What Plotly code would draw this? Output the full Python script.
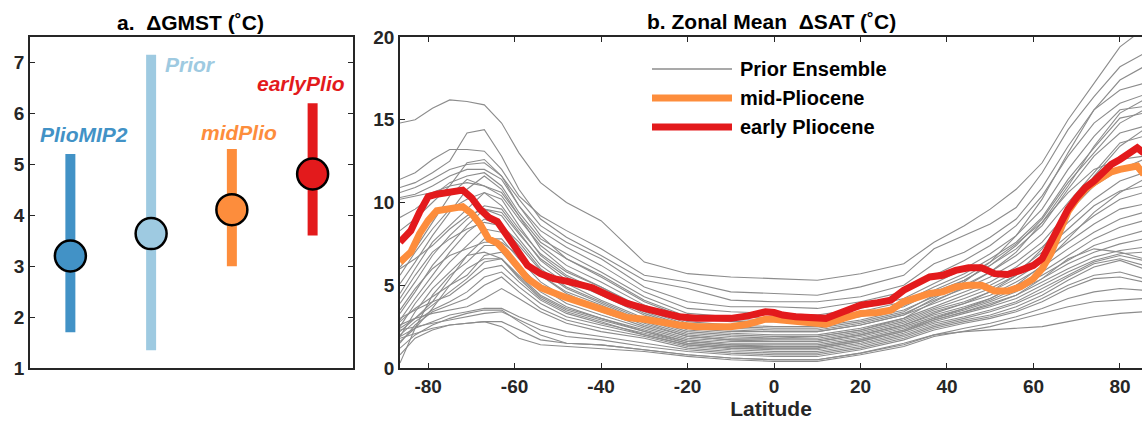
import plotly.graph_objects as go

# ---------------- Panel a: global mean surface temperature change ----------------
gmst_names = ["PlioMIP2", "Prior", "midPlio", "earlyPlio"]
gmst_center = [3.2, 3.64, 4.11, 4.81]
gmst_low = [1.7, 1.35, 3.0, 3.6]
gmst_high = [5.2, 7.15, 5.3, 6.2]
gmst_colors = ["#4292c6", "#9ecae1", "#fd8d3c", "#e31a1c"]

# ---------------- Panel b: zonal mean SAT change ----------------
lat_grid = [-86.5, -83, -79, -75, -71, -67, -63, -59, -54, -48, -40, -30, -20, -10,
            0, 10, 20, 30, 37, 44, 50, 56, 62, 68, 74, 80, 85.5]

ens01 = [14.8, 15.0, 15.7, 16.2, 16.1, 15.9, 14.8, 13.0, 11.2, 10.0, 8.9, 6.4, 5.7, 5.5, 5.4, 5.3, 5.7, 6.3, 7.6, 8.6, 9.6, 10.8, 12.4, 15.0, 17.2, 19.4, 20.5]
ens02 = [11.4, 11.8, 12.6, 13.2, 13.2, 13.1, 12.0, 10.4, 9.2, 8.3, 7.2, 5.6, 5.2, 4.6, 4.5, 4.4, 4.9, 5.6, 7.2, 8.0, 8.7, 9.7, 11.8, 14.4, 16.4, 18.2, 19.0]
ens03 = [10.9, 11.2, 11.8, 12.5, 14.2, 14.4, 12.8, 10.8, 9.0, 7.9, 6.8, 5.3, 4.8, 4.1, 4.0, 4.0, 4.3, 5.0, 6.3, 7.0, 7.9, 9.0, 10.9, 13.4, 15.6, 16.8, 17.2]
ens04 = [10.6, 10.9, 11.4, 12.0, 12.3, 12.4, 11.6, 10.2, 8.6, 7.6, 6.6, 4.9, 4.0, 3.7, 3.7, 3.6, 4.0, 4.6, 5.6, 6.5, 7.4, 8.6, 10.4, 12.8, 14.8, 16.0, 16.5]
ens05 = [10.3, 10.5, 11.0, 11.6, 12.0, 12.0, 11.4, 9.8, 8.3, 7.3, 6.2, 4.6, 3.6, 3.4, 3.3, 3.2, 3.6, 4.2, 5.1, 6.0, 6.9, 8.0, 9.6, 12.0, 14.0, 15.6, 15.8]
ens06 = [9.1, 9.6, 10.4, 11.2, 11.6, 11.8, 11.0, 9.4, 7.8, 6.9, 5.8, 4.3, 3.3, 3.1, 3.0, 3.0, 3.4, 4.0, 4.9, 5.7, 6.6, 7.6, 9.1, 11.4, 13.3, 15.1, 15.4]
ens07 = [8.3, 9.0, 10.0, 11.0, 12.4, 12.6, 11.6, 9.8, 8.0, 6.6, 5.5, 4.0, 3.0, 2.8, 2.8, 2.7, 3.1, 3.7, 4.6, 5.3, 6.2, 7.2, 8.6, 10.8, 12.8, 14.2, 14.6]
ens08 = [6.1, 7.2, 8.8, 10.4, 11.4, 11.0, 10.4, 9.0, 7.4, 6.2, 5.2, 3.8, 2.8, 2.6, 2.5, 2.5, 2.9, 3.5, 4.3, 5.0, 5.8, 6.8, 8.1, 10.0, 11.8, 13.6, 14.0]
ens09 = [5.1, 6.4, 8.0, 9.4, 10.8, 11.6, 10.8, 9.2, 7.2, 5.9, 4.9, 3.5, 2.6, 2.4, 2.3, 2.3, 2.7, 3.3, 4.1, 4.8, 5.5, 6.4, 7.6, 9.4, 11.0, 12.0, 12.6]
ens10 = [4.5, 6.0, 7.6, 8.6, 9.6, 10.6, 10.2, 8.6, 6.8, 5.6, 4.6, 3.3, 2.4, 2.2, 2.2, 2.2, 2.6, 3.2, 3.9, 4.6, 5.2, 6.1, 7.3, 8.8, 10.2, 11.3, 11.8]
ens11 = [3.9, 5.2, 6.8, 8.0, 9.0, 9.8, 9.6, 8.2, 6.5, 5.3, 4.4, 3.2, 2.3, 2.1, 2.0, 2.0, 2.4, 3.0, 3.7, 4.4, 5.0, 5.8, 7.0, 8.4, 9.8, 10.7, 11.0]
ens12 = [3.3, 4.6, 6.2, 7.4, 8.6, 9.6, 9.2, 7.8, 6.2, 5.1, 4.1, 3.0, 2.2, 2.0, 1.9, 1.9, 2.3, 2.9, 3.6, 4.2, 4.8, 5.6, 6.7, 8.0, 9.2, 10.2, 10.6]
ens13 = [2.9, 4.2, 5.6, 7.0, 8.2, 9.0, 8.6, 7.4, 5.9, 4.8, 3.9, 2.8, 2.0, 1.8, 1.8, 1.8, 2.2, 2.8, 3.5, 4.0, 4.6, 5.4, 6.4, 7.6, 8.7, 9.6, 9.9]
ens14 = [2.5, 3.9, 5.2, 6.4, 7.4, 8.4, 8.2, 7.0, 5.6, 4.5, 3.6, 2.6, 1.9, 1.7, 1.7, 1.7, 2.1, 2.7, 3.4, 3.9, 4.4, 5.2, 6.1, 7.2, 8.2, 9.0, 9.4]
ens15 = [1.9, 3.4, 4.8, 5.8, 6.8, 7.8, 7.8, 6.6, 5.2, 4.2, 3.4, 2.5, 1.8, 1.6, 1.6, 1.6, 2.0, 2.6, 3.2, 3.7, 4.2, 5.0, 5.8, 6.8, 7.8, 8.5, 8.9]
ens16 = [0.3, 2.4, 4.4, 5.6, 6.4, 7.4, 7.4, 6.2, 4.9, 3.9, 3.2, 2.4, 1.7, 1.5, 1.5, 1.5, 1.9, 2.5, 3.1, 3.6, 4.1, 4.8, 5.6, 6.5, 7.4, 7.9, 8.3]
ens17 = [2.8, 3.6, 4.3, 5.0, 5.6, 6.8, 7.0, 5.8, 4.6, 3.7, 3.0, 2.3, 1.6, 1.4, 1.4, 1.4, 1.8, 2.4, 3.0, 3.5, 4.0, 4.6, 5.4, 6.3, 7.0, 7.5, 7.8]
ens18 = [2.2, 3.0, 3.8, 4.6, 5.4, 6.4, 6.6, 5.5, 4.3, 3.5, 2.9, 2.2, 1.5, 1.3, 1.3, 1.3, 1.7, 2.3, 2.9, 3.4, 3.8, 4.4, 5.2, 6.0, 6.7, 7.1, 7.3]
ens19 = [3.0, 3.5, 4.0, 4.4, 5.2, 6.0, 6.2, 5.2, 4.1, 3.3, 2.7, 2.1, 1.5, 1.3, 1.2, 1.2, 1.6, 2.2, 2.8, 3.3, 3.7, 4.2, 5.0, 5.8, 6.5, 6.9, 7.0]
ens20 = [2.0, 2.8, 3.5, 4.0, 4.6, 5.5, 5.8, 4.9, 3.9, 3.1, 2.6, 2.0, 1.4, 1.2, 1.1, 1.1, 1.5, 2.1, 2.7, 3.1, 3.5, 4.0, 4.8, 5.6, 6.4, 6.8, 6.5]
ens21 = [1.5, 2.6, 3.4, 3.8, 4.2, 5.0, 5.5, 4.6, 3.6, 2.9, 2.4, 1.9, 1.3, 1.1, 1.0, 1.0, 1.4, 2.0, 2.6, 3.0, 3.4, 3.9, 4.6, 5.5, 6.3, 6.6, 6.2]
ens22 = [2.6, 3.0, 3.3, 3.5, 3.7, 4.2, 4.8, 4.2, 3.4, 2.7, 2.2, 1.8, 1.2, 1.0, 0.9, 0.9, 1.3, 1.9, 2.5, 2.9, 3.2, 3.7, 4.4, 5.3, 6.1, 6.5, 6.0]
ens23 = [1.9, 2.4, 2.8, 3.2, 3.4, 3.6, 3.6, 3.1, 2.6, 2.2, 1.9, 1.5, 1.1, 0.9, 0.8, 0.8, 1.2, 1.8, 2.4, 2.8, 3.1, 3.5, 4.2, 5.0, 5.6, 5.8, 5.4]
ens24 = [2.3, 2.5, 2.7, 2.9, 3.1, 3.3, 3.4, 2.9, 2.3, 1.9, 1.7, 1.3, 1.0, 0.8, 0.7, 0.7, 1.1, 1.7, 2.3, 2.7, 3.0, 3.4, 4.0, 4.8, 5.4, 5.5, 5.2]
ens25 = [1.8, 2.1, 2.4, 2.6, 2.7, 2.8, 2.8, 2.3, 1.7, 1.5, 1.4, 1.1, 0.8, 0.6, 0.5, 0.5, 0.9, 1.4, 2.0, 2.4, 2.7, 3.1, 3.6, 4.2, 4.6, 4.8, 4.7]
ens26 = [0.8, 1.8, 2.3, 2.6, 2.7, 2.8, 2.5, 1.8, 1.4, 1.3, 1.2, 1.0, 0.7, 0.5, 0.4, 0.4, 0.8, 1.3, 1.9, 2.2, 2.5, 2.9, 3.3, 3.7, 4.0, 4.1, 4.2]
ens27 = [3.5, 4.8, 6.0, 6.8, 7.2, 7.6, 7.6, 6.8, 5.6, 4.6, 3.8, 2.7, 1.9, 1.7, 1.6, 1.6, 2.0, 2.6, 3.3, 3.9, 4.6, 5.6, 7.2, 9.4, 11.6, 13.4, 14.4]
ens28 = [4.2, 5.6, 7.0, 7.8, 8.4, 8.8, 8.6, 7.6, 6.0, 4.9, 4.0, 2.9, 2.1, 1.9, 1.8, 1.9, 2.3, 3.0, 4.0, 4.9, 5.8, 7.0, 8.8, 11.0, 13.4, 15.4, 16.2]
ens29 = [2.4, 3.0, 4.0, 5.4, 6.8, 7.0, 6.6, 5.6, 4.4, 3.6, 3.0, 2.2, 1.6, 1.4, 1.3, 1.3, 1.7, 2.3, 3.0, 3.6, 4.2, 5.0, 6.2, 7.8, 9.4, 10.6, 11.4]
ens30 = [1.6, 2.4, 3.6, 5.0, 6.0, 6.6, 6.6, 5.4, 4.2, 3.4, 2.8, 2.0, 1.4, 1.2, 1.2, 1.2, 1.6, 2.2, 2.9, 3.4, 3.9, 4.4, 5.4, 6.6, 7.2, 7.0, 6.6]
ens31 = [1.2, 2.0, 2.6, 3.0, 3.3, 3.5, 3.5, 2.8, 2.0, 1.5, 1.4, 1.1, 0.8, 0.6, 0.5, 0.5, 0.9, 1.5, 2.0, 2.2, 2.3, 2.4, 2.5, 2.8, 3.1, 3.3, 3.4]
ens32 = [5.6, 7.0, 8.4, 9.6, 10.2, 10.6, 9.8, 8.4, 6.9, 5.8, 4.9, 3.6, 2.7, 2.5, 2.4, 2.4, 2.8, 3.4, 4.4, 5.3, 6.2, 7.4, 9.0, 11.2, 13.0, 14.8, 15.6]
ens33 = [10.2, 10.4, 10.6, 11.0, 11.2, 11.0, 10.6, 9.2, 7.6, 6.6, 5.6, 4.1, 3.1, 2.9, 2.9, 2.9, 3.2, 3.8, 4.7, 5.5, 6.4, 7.5, 8.8, 10.6, 12.0, 12.6, 12.8]
ens34 = [6.0, 6.6, 7.4, 8.4, 9.2, 9.6, 9.4, 8.1, 6.6, 5.5, 4.5, 3.4, 2.5, 2.3, 2.2, 2.2, 2.6, 3.2, 4.2, 5.2, 6.4, 8.0, 10.2, 13.0, 15.6, 17.4, 18.2]

prior_ensemble = [ens01, ens02, ens03, ens04, ens05, ens06, ens07, ens08, ens09, ens10,
                  ens11, ens12, ens13, ens14, ens15, ens16, ens17, ens18, ens19, ens20,
                  ens21, ens22, ens23, ens24, ens25, ens26, ens27, ens28, ens29, ens30,
                  ens31, ens32, ens33, ens34]

lat_fine = [-86.5, -84, -82, -80, -78, -76, -74, -72, -70, -68, -66, -64, -62, -60, -57, -54,
            -51, -48, -45, -42, -38, -34, -30, -26, -22, -18, -14, -10, -6, -2, 0, 2, 5, 8,
            12, 16, 20, 24, 27, 30, 33, 36, 39, 42, 45, 48, 51, 54, 57, 60, 62, 64, 66, 68,
            70, 72, 74, 76, 78, 80, 82, 84, 85.5]
mid_pliocene = [6.4, 7.0, 8.1, 8.9, 9.5, 9.55, 9.7, 9.75, 9.35, 8.7, 7.8, 7.55, 7.0, 6.3, 5.4, 4.85,
                4.5, 4.25, 4.0, 3.75, 3.4, 3.05, 2.95, 2.75, 2.6, 2.5, 2.45, 2.5, 2.65, 2.95, 2.95, 2.9, 2.8, 2.75,
                2.65, 3.0, 3.3, 3.35, 3.5, 4.0, 4.3, 4.5, 4.6, 4.9, 5.0, 5.0, 4.65, 4.65, 4.9, 5.4, 6.0, 6.9, 8.2, 9.45,
                10.2, 10.8, 11.2, 11.5, 11.85, 12.0, 12.1, 12.2, 11.7]
early_pliocene = [7.6, 8.3, 9.4, 10.35, 10.5, 10.55, 10.7, 10.75, 10.3, 9.6, 9.1, 8.85, 8.1, 7.3, 6.2, 5.7,
                  5.4, 5.25, 5.1, 4.85, 4.35, 3.9, 3.6, 3.3, 3.1, 3.0, 2.95, 3.0, 3.15, 3.4, 3.35, 3.2, 3.1, 3.05,
                  3.0, 3.4, 3.8, 3.95, 4.1, 4.7, 5.1, 5.5, 5.6, 5.9, 6.05, 6.05, 5.7, 5.65, 5.9, 6.2, 6.6, 7.6, 8.7, 9.6,
                  10.3, 10.9, 11.3, 11.8, 12.3, 12.6, 13.0, 13.3, 13.0]

legend_labels = ["Prior Ensemble", "mid-Pliocene", "early Pliocene"]
lat_ticks = [-80, -60, -40, -20, 0, 20, 40, 60, 80]
lat_ticktext = ["-80", "-60", "-40", "-20", "0", "20", "40", "60", "80"]
sat_ticks = [0, 5, 10, 15, 20]
gmst_ticks = [1, 2, 3, 4, 5, 6, 7]

FONT = "Liberation Sans, Arial, Helvetica, sans-serif"
AXC = "#262626"
GRAY = "#8c8c8c"
ORANGE = "#fd8d3c"
RED = "#e31a1c"

fig = go.Figure()

# Panel a: bars + circles
for i, name in enumerate(gmst_names):
    xpos = i + 1
    fig.add_trace(go.Scatter(
        x=[xpos, xpos], y=[gmst_low[i], gmst_high[i]], mode="lines",
        line=dict(color=gmst_colors[i], width=10), showlegend=False,
        xaxis="x", yaxis="y", hoverinfo="skip"))
    fig.add_trace(go.Scatter(
        x=[xpos], y=[gmst_center[i]], mode="markers", name=name,
        marker=dict(color=gmst_colors[i], size=31, line=dict(color="black", width=2.5)),
        showlegend=False, xaxis="x", yaxis="y"))

# Panel a labels
label_pos_x = [1.17, 2.49, 3.09, 3.86]
label_pos_y = [5.59, 6.96, 5.63, 6.59]
for i, name in enumerate(gmst_names):
    fig.add_annotation(x=label_pos_x[i], y=label_pos_y[i], xref="x", yref="y", text=name,
                       showarrow=False, xanchor="center", yanchor="middle",
                       font=dict(family=FONT, size=21, color=gmst_colors[i],
                                 weight="bold", style="italic"))

# Panel b: ensemble
for k, ens in enumerate(prior_ensemble):
    fig.add_trace(go.Scatter(x=lat_grid, y=ens, mode="lines",
                             line=dict(color=GRAY, width=1.1),
                             name=legend_labels[0], showlegend=False,
                             xaxis="x2", yaxis="y2", hoverinfo="skip"))
fig.add_trace(go.Scatter(x=lat_fine, y=mid_pliocene, mode="lines",
                         line=dict(color=ORANGE, width=7), name=legend_labels[1],
                         showlegend=False, xaxis="x2", yaxis="y2"))
fig.add_trace(go.Scatter(x=lat_fine, y=early_pliocene, mode="lines",
                         line=dict(color=RED, width=7), name=legend_labels[2],
                         showlegend=False, xaxis="x2", yaxis="y2"))

# Manual legend (long line samples as in the original)
W, H = 1142, 425
leg_x0, leg_x1, leg_tx = 652, 732, 738
leg_rows = [69, 98, 127]
leg_styles = [(GRAY, 1.3), (ORANGE, 7), (RED, 7)]
for (col, wdt), yy, lab in zip(leg_styles, leg_rows, legend_labels):
    fig.add_shape(type="line", xref="paper", yref="paper",
                  x0=leg_x0 / W, x1=leg_x1 / W, y0=1 - yy / H, y1=1 - yy / H,
                  line=dict(color=col, width=wdt))
    fig.add_annotation(x=leg_tx / W, y=1 - yy / H, xref="paper", yref="paper", text=lab,
                       showarrow=False, xanchor="left", yanchor="middle",
                       font=dict(family=FONT, size=20, color="black", weight="bold"))

# Titles
fig.add_annotation(x=190 / W, y=1 - 23 / H, xref="paper", yref="paper",
                   text="a.  \u0394GMST (\u02daC)", showarrow=False,
                   xanchor="center", yanchor="middle",
                   font=dict(family=FONT, size=21, color="black", weight="bold"))
fig.add_annotation(x=771 / W, y=1 - 22 / H, xref="paper", yref="paper",
                   text="b. Zonal Mean  \u0394SAT (\u02daC)", showarrow=False,
                   xanchor="center", yanchor="middle",
                   font=dict(family=FONT, size=21, color="black", weight="bold"))

ydom = [1 - 368 / H, 1 - 37 / H]
tickfont = dict(family=FONT, size=19, color=AXC, weight="bold")

fig.update_layout(
    width=W, height=H,
    margin=dict(l=0, r=0, t=0, b=0, autoexpand=False),
    paper_bgcolor="white", plot_bgcolor="white",
    showlegend=False,
    xaxis=dict(domain=[30 / W, 353 / W], range=[0.5, 4.5], showticklabels=False,
               ticks="", showgrid=False, zeroline=False, showline=True,
               linecolor=AXC, linewidth=1.5, mirror=True, automargin=False),
    yaxis=dict(domain=ydom, range=[1, 7.5], tickvals=gmst_ticks, ticks="inside",
               ticklen=5, tickwidth=1.2, tickcolor=AXC, showgrid=False, zeroline=False,
               showline=True, linecolor=AXC, linewidth=1.5, mirror="ticks",
               tickfont=tickfont, anchor="x", automargin=False),
    xaxis2=dict(domain=[400 / W, 1.0], range=[-86.5, 85.1], tickvals=lat_ticks,
                ticktext=lat_ticktext,
                ticks="inside", ticklen=5, tickwidth=1.2, tickcolor=AXC,
                showgrid=False, zeroline=False, showline=True, linecolor=AXC,
                linewidth=1.5, mirror="ticks", tickfont=tickfont, anchor="y2",
                automargin=False,
                title=dict(text="Latitude", standoff=6,
                           font=dict(family=FONT, size=21, color=AXC, weight="bold"))),
    yaxis2=dict(domain=ydom, range=[0, 20], tickvals=sat_ticks, ticks="inside",
                ticklen=5, tickwidth=1.2, tickcolor=AXC, showgrid=False,
                zeroline=False, showline=True, linecolor=AXC, linewidth=1.5,
                mirror=False, tickfont=tickfont, anchor="x2", automargin=False),
)

fig.write_html("out.html",
               config={"displayModeBar": False},
               post_script="document.body.style.margin='0';document.body.style.overflow='hidden';")
